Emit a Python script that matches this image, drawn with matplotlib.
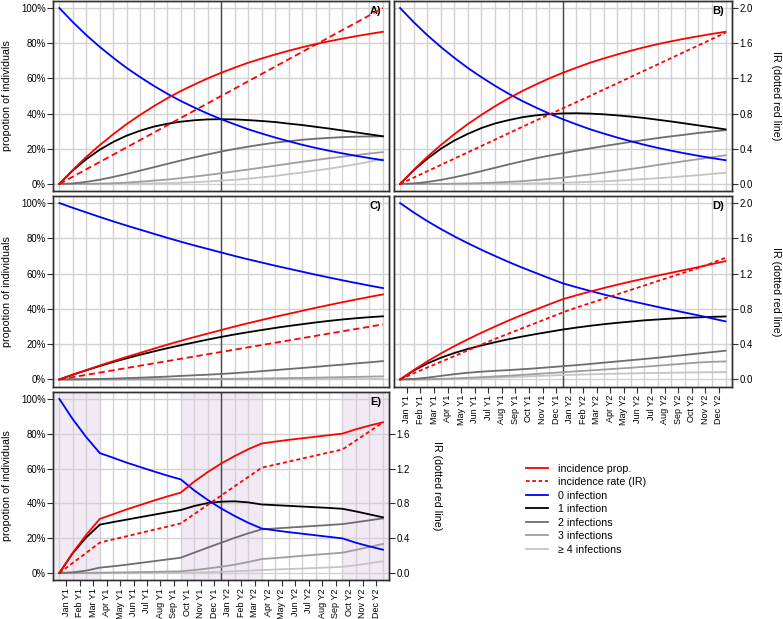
import matplotlib
matplotlib.use("Agg")
import matplotlib.pyplot as plt
from matplotlib.lines import Line2D
from matplotlib.ticker import FuncFormatter

plt.rcParams['font.family'] = ['Liberation Sans', 'DejaVu Sans']
plt.rcParams['font.size'] = 7

# ---------------- data (months 0..24) ----------------
months = list(range(25))
tick_labels = ["Jan Y1", "Feb Y1", "Mar Y1", "Apr Y1", "May Y1", "Jun Y1", "Jul Y1", "Aug Y1",
               "Sep Y1", "Oct Y1", "Nov Y1", "Dec Y1", "Jan Y2", "Feb Y2", "Mar Y2", "Apr Y2",
               "May Y2", "Jun Y2", "Jul Y2", "Aug Y2", "Sep Y2", "Oct Y2", "Nov Y2", "Dec Y2"]

# Panel A (percent; IR in rate units)
A_inc = [0, 8.0, 15.4, 22.1, 28.3, 34.1, 39.3, 44.2, 48.7, 52.8, 56.5, 60.0, 63.2, 66.1, 68.9,
         71.3, 73.6, 75.7, 77.7, 79.5, 81.1, 82.6, 84.0, 85.3, 86.5]
A_ir = [0, 0.083, 0.167, 0.25, 0.333, 0.417, 0.5, 0.583, 0.667, 0.75, 0.833, 0.917, 1.0, 1.083,
        1.167, 1.25, 1.333, 1.417, 1.5, 1.583, 1.667, 1.75, 1.833, 1.917, 2.0]
A_p0 = [100, 92.0, 84.6, 77.9, 71.7, 65.9, 60.7, 55.8, 51.3, 47.2, 43.5, 40.0, 36.8, 33.9, 31.1,
        28.7, 26.4, 24.3, 22.3, 20.5, 18.9, 17.4, 16.0, 14.7, 13.5]
A_p1 = [0, 7.7, 14.1, 19.5, 23.9, 27.5, 30.3, 32.6, 34.2, 35.4, 36.2, 36.7, 36.8, 36.7, 36.3,
        35.8, 35.2, 34.3, 33.5, 32.5, 31.5, 30.4, 29.3, 28.2, 27.1]
A_p2 = [0, 0.3, 1.2, 2.4, 4.0, 5.7, 7.6, 9.5, 11.4, 13.3, 15.1, 16.8, 18.4, 19.9, 21.2,
        22.4, 23.5, 24.3, 25.1, 25.7, 26.2, 26.6, 26.9, 27.0, 27.1]
A_p3 = [0, 0.0, 0.1, 0.2, 0.4, 0.8, 1.3, 1.9, 2.5, 3.3, 4.2, 5.1, 6.1, 7.2, 8.2,
        9.3, 10.4, 11.5, 12.6, 13.6, 14.6, 15.5, 16.4, 17.3, 18.1]
A_p4 = [0, 0, 0, 0, 0, 0.1, 0.2, 0.3, 0.5, 0.7, 1.0, 1.4, 1.9, 2.4, 3.0,
        3.8, 4.5, 5.6, 6.5, 7.6, 8.7, 9.9, 11.2, 12.6, 14.2]

# Panel B
B_inc = A_inc
B_ir = [0, 0.072, 0.144, 0.216, 0.288, 0.36, 0.432, 0.504, 0.576, 0.648, 0.72, 0.79, 0.86, 0.93,
        1.0, 1.072, 1.144, 1.216, 1.288, 1.36, 1.432, 1.504, 1.576, 1.648, 1.72]
B_p0 = A_p0
B_p1 = [0, 7.8, 14.3, 20.0, 24.7, 28.5, 31.8, 34.4, 36.3, 37.9, 39.0, 39.7, 40.1, 40.2, 40.0,
        39.6, 39.0, 38.3, 37.5, 36.5, 35.5, 34.4, 33.3, 32.2, 31.0]
B_p2 = [0, 0.3, 1.1, 2.3, 3.8, 5.5, 7.3, 9.2, 11.1, 12.9, 14.6, 16.1, 17.5, 18.9, 20.2,
        21.5, 22.7, 23.9, 25.0, 26.1, 27.1, 28.0, 29.0, 29.8, 30.6]
B_p3 = [0, 0, 0.02, 0.06, 0.15, 0.3, 0.5, 0.8, 1.15, 1.6, 2.2, 2.85, 3.6, 4.5, 5.4,
        6.4, 7.4, 8.5, 9.6, 10.8, 11.9, 13.0, 14.1, 15.2, 16.3]
B_p4 = [0, 0, 0, 0, 0.01, 0.02, 0.05, 0.1, 0.15, 0.25, 0.35, 0.5, 0.7, 0.9, 1.2,
        1.5, 1.9, 2.3, 2.8, 3.3, 3.8, 4.4, 5.0, 5.7, 6.4]

# Panel C
C_p0 = [100, 97.3, 94.7, 92.1, 89.6, 87.2, 84.9, 82.6, 80.3, 78.1, 76.0, 74.0, 72.0, 70.0, 68.1,
        66.3, 64.5, 62.8, 61.1, 59.4, 57.8, 56.2, 54.7, 53.2, 51.8]
C_inc = [0, 2.7, 5.3, 7.9, 10.4, 12.8, 15.1, 17.4, 19.7, 21.9, 24.0, 26.0, 28.0, 30.0, 31.9,
         33.7, 35.5, 37.2, 38.9, 40.6, 42.2, 43.8, 45.3, 46.8, 48.2]
C_ir = [0, 0.026, 0.052, 0.078, 0.104, 0.13, 0.156, 0.182, 0.208, 0.234, 0.26, 0.286, 0.312, 0.338,
        0.364, 0.39, 0.416, 0.442, 0.468, 0.494, 0.52, 0.546, 0.572, 0.598, 0.625]
C_p1 = [0, 2.7, 5.2, 7.6, 9.9, 12.0, 14.0, 15.9, 17.7, 19.4, 21.0, 22.6, 24.1, 25.5, 26.8,
        28.0, 29.2, 30.3, 31.3, 32.3, 33.2, 34.0, 34.7, 35.3, 35.8]
C_p2 = [0, 0.04, 0.14, 0.3, 0.5, 0.75, 1.0, 1.3, 1.6, 2.0, 2.35, 2.7, 3.1, 3.6, 4.1,
        4.7, 5.3, 5.9, 6.5, 7.1, 7.8, 8.4, 9.1, 9.7, 10.4]
C_p3 = [0, 0, 0, 0, 0, 0.02, 0.04, 0.07, 0.1, 0.14, 0.18, 0.24, 0.3, 0.37, 0.45,
        0.55, 0.65, 0.76, 0.88, 1.0, 1.15, 1.3, 1.45, 1.6, 1.75]
C_p4 = [0, 0, 0, 0, 0, 0, 0, 0, 0, 0, 0.01, 0.01, 0.02, 0.03, 0.04,
        0.05, 0.07, 0.08, 0.1, 0.12, 0.15, 0.18, 0.21, 0.24, 0.28]

# Panel D
D_p0 = [100, 94.7, 89.8, 85.3, 81.1, 77.2, 73.5, 70.0, 66.6, 63.4, 60.4, 57.4, 54.5, 52.3, 50.2,
        48.2, 46.3, 44.5, 42.8, 41.1, 39.5, 37.9, 36.3, 34.6, 32.9]
D_inc = [0, 5.3, 10.2, 14.7, 18.9, 22.8, 26.5, 30.0, 33.4, 36.6, 39.6, 42.6, 45.5, 47.7, 49.8,
         51.8, 53.7, 55.5, 57.2, 58.9, 60.5, 62.1, 63.7, 65.4, 67.1]
D_ir = [0, 0.07, 0.135, 0.2, 0.265, 0.33, 0.395, 0.46, 0.52, 0.58, 0.64, 0.70, 0.76, 0.815, 0.865,
        0.915, 0.965, 1.015, 1.065, 1.115, 1.165, 1.215, 1.265, 1.32, 1.38]
D_p1 = [0, 5.0, 9.0, 12.3, 15.0, 17.3, 19.3, 21.1, 22.8, 24.3, 25.7, 27.0, 28.3, 29.4, 30.4,
        31.3, 32.1, 32.8, 33.5, 34.0, 34.5, 34.9, 35.2, 35.5, 35.7]
D_p2 = [0, 0.3, 1.0, 2.0, 3.0, 3.8, 4.4, 4.9, 5.3, 5.8, 6.3, 6.9, 7.5, 8.1, 8.8,
        9.5, 10.2, 10.9, 11.6, 12.3, 13.1, 13.9, 14.7, 15.5, 16.3]
D_p3 = [0, 0.0, 0.1, 0.3, 0.6, 0.9, 1.3, 1.7, 2.1, 2.6, 3.1, 3.6, 4.1, 4.6, 5.1,
        5.6, 6.1, 6.6, 7.2, 7.8, 8.4, 9.0, 9.6, 10.0, 10.2]
D_p4 = [0, 0.0, 0.0, 0.1, 0.2, 0.4, 0.7, 1.0, 1.3, 1.6, 1.9, 2.2, 2.5, 2.7, 2.9,
        3.1, 3.3, 3.4, 3.6, 3.7, 3.8, 3.9, 4.0, 4.1, 4.2]

# Panel E (seasonal)
E_p0 = [100, 88.3, 78.0, 68.9, 66.2, 63.4, 60.9, 58.4, 56.0, 53.8, 47.5, 42.0, 37.1, 32.8, 28.9,
        25.6, 24.5, 23.5, 22.6, 21.7, 20.8, 19.9, 17.4, 15.3, 13.4]
E_inc = [0, 11.7, 22.0, 31.1, 33.8, 36.6, 39.1, 41.6, 44.0, 46.2, 52.5, 58.0, 62.9, 67.2, 71.1,
         74.4, 75.5, 76.5, 77.4, 78.3, 79.2, 80.1, 82.6, 84.7, 86.6]
E_ir = [0, 0.117, 0.233, 0.35, 0.387, 0.423, 0.46, 0.497, 0.533, 0.57, 0.677, 0.783, 0.89, 0.997,
        1.103, 1.21, 1.245, 1.28, 1.315, 1.35, 1.385, 1.42, 1.523, 1.627, 1.73]
E_p1 = [0, 11.5, 20.5, 27.8, 29.3, 30.7, 32.1, 33.5, 34.9, 36.2, 38.5, 40.2, 41.0, 41.2, 40.6,
        39.4, 39.0, 38.6, 38.2, 37.8, 37.4, 36.9, 35.4, 33.7, 32.0]
E_p2 = [0, 0.4, 1.4, 3.1, 3.9, 4.8, 5.8, 6.8, 7.8, 8.8, 11.7, 14.6, 17.4, 20.2, 22.8,
        25.1, 25.6, 26.1, 26.6, 27.1, 27.6, 28.1, 29.2, 30.3, 31.4]
E_p3 = [0, 0, 0.05, 0.2, 0.3, 0.4, 0.55, 0.7, 0.85, 1.0, 1.7, 2.6, 3.6, 4.8, 6.3,
        8.0, 8.6, 9.2, 9.9, 10.5, 11.1, 11.7, 13.3, 15.0, 16.7]
E_p4 = [0, 0, 0, 0, 0, 0, 0.02, 0.04, 0.07, 0.1, 0.25, 0.45, 0.7, 1.0, 1.35,
        1.7, 2.0, 2.3, 2.6, 2.9, 3.2, 3.6, 4.5, 5.6, 6.7]

winter_spans = [(-1, 3), (9, 15), (21, 25)]

panels = {
    "A": dict(inc=A_inc, ir=A_ir, p=[A_p0, A_p1, A_p2, A_p3, A_p4]),
    "B": dict(inc=B_inc, ir=B_ir, p=[B_p0, B_p1, B_p2, B_p3, B_p4]),
    "C": dict(inc=C_inc, ir=C_ir, p=[C_p0, C_p1, C_p2, C_p3, C_p4]),
    "D": dict(inc=D_inc, ir=D_ir, p=[D_p0, D_p1, D_p2, D_p3, D_p4]),
    "E": dict(inc=E_inc, ir=E_ir, p=[E_p0, E_p1, E_p2, E_p3, E_p4]),
}

# ---------------- styles ----------------
RED = "#FF0000"
BLUE = "#0000FF"
count_colors = [BLUE, "#000000", "#6E6E6E", "#9E9E9E", "#C4C4C4"]
LW = 1.3
GRID = "#D2D2D2"
FRAME = "#303030"
dash_long = (0, (3.5, 2))
dash_short = (0, (2.2, 1.6))
dash_style = {"A": dash_long, "B": dash_short, "C": dash_long, "D": dash_short, "E": dash_short}

W, H = 783, 619
fig = plt.figure(figsize=(W / 100, H / 100), dpi=100)


def box(l, t, r, b):
    return [l / W, 1 - b / H, (r - l) / W, (b - t) / H]


pos = {
    "A": box(53.3, 1, 389, 191),
    "B": box(394, 1, 731.7, 191),
    "C": box(53.3, 196, 389, 386.5),
    "D": box(394, 196, 731.7, 386.5),
    "E": box(53.3, 392, 389, 580),
}

pct_fmt = FuncFormatter(lambda v, p: f"{int(round(v))}%")
ir_fmt = FuncFormatter(lambda v, p: f"{v:.1f}")

for name, d in panels.items():
    ax = fig.add_axes(pos[name])
    ax.set_xlim(-0.45, 24.45)
    ax.set_ylim(-4, 104)
    if name == "E":
        for a, b in winter_spans:
            ax.axvspan(a, b, color="#F1E9F3", zorder=0, lw=0)
    for m in months:
        ax.axvline(m, color=GRID, lw=1.0, zorder=0.5)
    for yv in range(0, 101, 20):
        ax.axhline(yv, color=GRID, lw=1.0, zorder=0.5)
    ax.axvline(12, color="#4a4a4a", lw=1.0, zorder=1)

    # count lines (draw lighter first)
    for k in [4, 3, 2, 1, 0]:
        ax.plot(months, d["p"][k], color=count_colors[k], lw=LW, zorder=3)
    ax.plot(months, d["inc"], color=RED, lw=LW, zorder=4)

    tw = ax.twinx()
    tw.set_ylim(-0.08, 2.08)
    tw.plot(months, d["ir"], color=RED, lw=LW, ls=dash_style[name], zorder=4)

    for a_ in (ax, tw):
        for s in a_.spines.values():
            s.set_color(FRAME)
            s.set_linewidth(1.0)

    # left axis
    ax.set_yticks(range(0, 101, 20))
    if name in ("A", "C", "E"):
        ax.yaxis.set_major_formatter(pct_fmt)
        ax.tick_params(axis="y", direction="out", length=4, width=0.8, pad=1.5,
                       labelsize=6.9, color=FRAME)
    else:
        ax.tick_params(axis="y", left=False, labelleft=False)
    # right axis
    if name == "E":
        tw.set_yticks([0, 0.4, 0.8, 1.2, 1.6])
    else:
        tw.set_yticks([0, 0.4, 0.8, 1.2, 1.6, 2.0])
    if name in ("B", "D", "E"):
        tw.yaxis.set_major_formatter(ir_fmt)
        tw.tick_params(axis="y", direction="out", length=4, width=0.8, pad=1.5,
                       labelsize=6.9, color=FRAME)
    else:
        tw.tick_params(axis="y", right=False, labelright=False)

    # x axis
    ax.set_xticks([m + 0.5 for m in months[:-1]])
    if name in ("D", "E"):
        ax.set_xticklabels(tick_labels, rotation=90, fontsize=6.5)
        ax.tick_params(axis="x", direction="out", length=4, width=0.8, pad=2, color=FRAME)
    else:
        ax.tick_params(axis="x", bottom=False, labelbottom=False)

    ax.text(0.978, 0.975, name + ")", transform=ax.transAxes, ha="right", va="top",
            fontsize=8, fontweight="bold", zorder=10)

    # axis titles
    if name in ("A", "C", "E"):
        fig.text(7 / W, pos[name][1] + pos[name][3] / 2, "propotion of individuals",
                 rotation=90, ha="center", va="center", fontsize=7.7)
    if name in ("B", "D"):
        fig.text(776 / W, pos[name][1] + pos[name][3] / 2, "IR (dotted red line)",
                 rotation=270, ha="center", va="center", fontsize=7.7)
    if name == "E":
        fig.text(437 / W, pos[name][1] + pos[name][3] / 2, "IR (dotted red line)",
                 rotation=270, ha="center", va="center", fontsize=7.7)

handles = [
    Line2D([], [], color=RED, lw=LW),
    Line2D([], [], color=RED, lw=LW, ls=(0, (2, 1.5))),
    Line2D([], [], color=count_colors[0], lw=LW),
    Line2D([], [], color=count_colors[1], lw=LW),
    Line2D([], [], color=count_colors[2], lw=LW),
    Line2D([], [], color=count_colors[3], lw=LW),
    Line2D([], [], color=count_colors[4], lw=LW),
]
labels = ["incidence prop.", "incidence rate (IR)", "0 infection", "1 infection",
          "2 infections", "3 infections", "\u2265 4 infections"]
fig.legend(handles, labels, loc="upper left", bbox_to_anchor=(526 / W, 1 - 463.5 / H),
           frameon=False, fontsize=7.7, handlelength=2.1, handletextpad=0.85,
           labelspacing=0.33, borderpad=0, borderaxespad=0)

fig.savefig("out.png", dpi=100)
